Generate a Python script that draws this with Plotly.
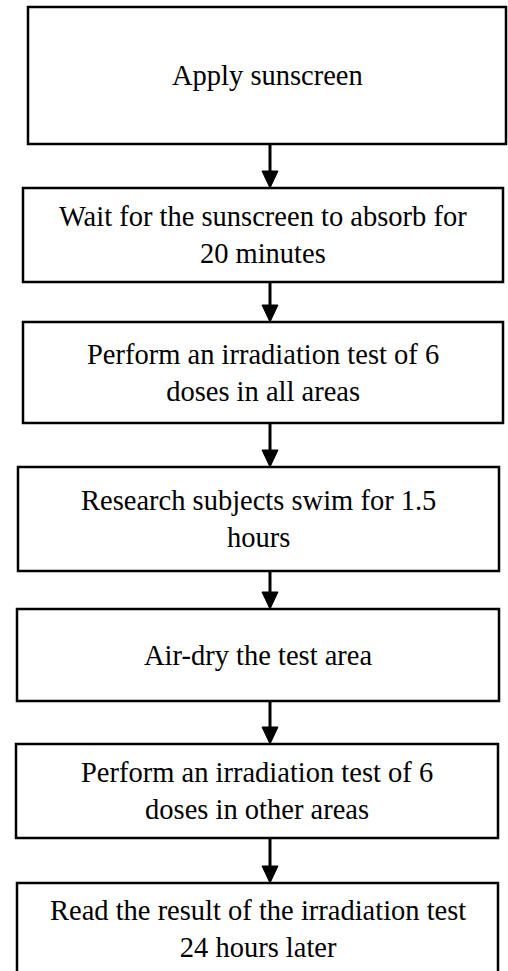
import plotly.graph_objects as go

# Flowchart content
steps = [
    "Apply sunscreen",
    "Wait for the sunscreen to absorb for<br>20 minutes",
    "Perform an irradiation test of 6<br>doses in all areas",
    "Research subjects swim for 1.5<br>hours",
    "Air-dry the test area",
    "Perform an irradiation test of 6<br>doses in other areas",
    "Read the result of the irradiation test<br>24 hours later",
]

# Box geometry (layout, pixels in a 508x971 canvas, y downwards)
box_left = [28, 23, 23, 18, 17, 16, 17]
box_right = [506, 503, 503, 499, 499, 498, 498]
box_top = [7, 188, 322, 467, 609, 744, 883]
box_bottom = [144, 282, 423, 571, 701, 838, 975]

ARROW_X = 270
HEAD_W = 8
HEAD_H = 17
FONT = dict(family="Liberation Serif, Times New Roman, serif", size=28.5, color="black")

fig = go.Figure()
fig.add_trace(go.Scatter(x=[0, 508], y=[0, 971], mode="markers",
                         marker=dict(opacity=0), hoverinfo="skip", showlegend=False))

shapes = []
annotations = []
for i, label in enumerate(steps):
    l, r, t, b = box_left[i], box_right[i], box_top[i], box_bottom[i]
    shapes.append(dict(type="rect", xref="x", yref="y", x0=l, x1=r, y0=t, y1=b,
                       line=dict(color="black", width=2.5), fillcolor="white", layer="below"))
    annotations.append(dict(x=(l + r) / 2, y=(t + b) / 2, xref="x", yref="y",
                            text=label, showarrow=False, font=FONT,
                            xanchor="center", yanchor="middle", align="center"))
    if i < len(steps) - 1:
        y0 = b
        y1 = box_top[i + 1]
        shapes.append(dict(type="line", xref="x", yref="y", x0=ARROW_X, x1=ARROW_X,
                           y0=y0, y1=y1 - HEAD_H + 1, line=dict(color="black", width=3)))
        shapes.append(dict(type="path", xref="x", yref="y",
                           path=f"M {ARROW_X - HEAD_W},{y1 - HEAD_H} L {ARROW_X + HEAD_W},{y1 - HEAD_H} L {ARROW_X},{y1} Z",
                           fillcolor="black", line=dict(color="black", width=1)))

fig.update_layout(
    width=508, height=971,
    margin=dict(l=0, r=0, t=0, b=0),
    paper_bgcolor="white", plot_bgcolor="white",
    shapes=shapes, annotations=annotations,
    xaxis=dict(range=[0, 508], visible=False, fixedrange=True),
    yaxis=dict(range=[971, 0], visible=False, fixedrange=True),
    showlegend=False,
)

fig.write_html(
    "out.html",
    config={"displayModeBar": False},
    post_script="document.body.style.margin='0';document.body.style.overflow='hidden';",
)
